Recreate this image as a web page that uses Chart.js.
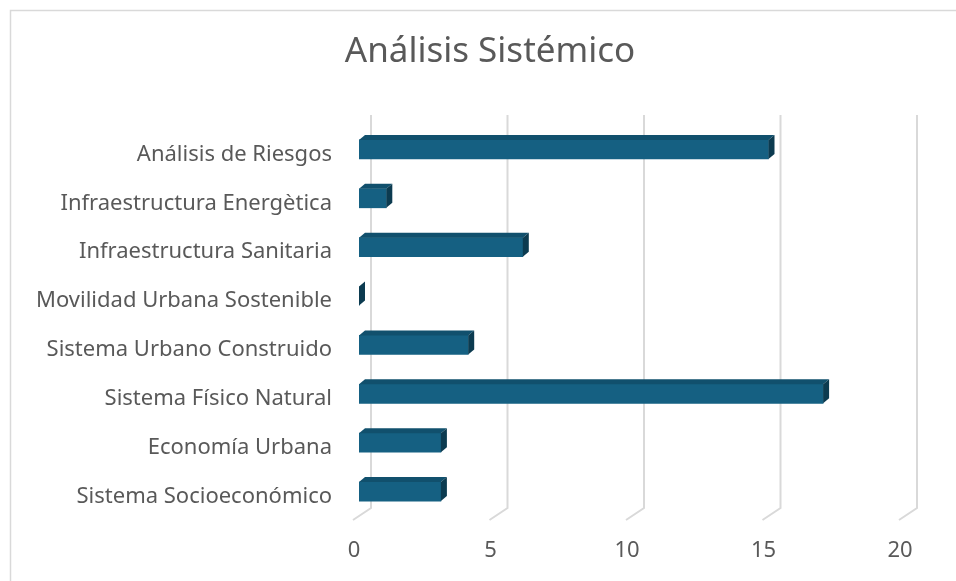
<!DOCTYPE html>
<html>
<head>
<meta charset="utf-8">
<script src="https://cdn.jsdelivr.net/npm/chart.js@4"></script>
<style>
  html, body { margin: 0; padding: 0; background: #ffffff; }
  #wrap { width: 956px; height: 581px; position: relative; }
</style>
</head>
<body>
<div id="wrap"><canvas id="sistemico-bar"></canvas></div>
<script>
Chart.defaults.font.family = "'Noto Sans', sans-serif"
Chart.defaults.color = '#595959'

const categories = ['Análisis de Riesgos', 'Infraestructura Energètica', 'Infraestructura Sanitaria',
    'Movilidad Urbana Sostenible', 'Sistema Urbano Construido', 'Sistema Físico Natural',
    'Economía Urbana', 'Sistema Socioeconómico'];
const values = [15, 1, 6, 0, 4, 17, 3, 3];
const xMin = 0;
const xMax = 20;
const xStep = 5;

const frontColor = '#156082';
const topColor = '#11506d';
const sideColor = '#0c3b50';
const gridColor = '#d9d9d9';

// fake 3d: top and side faces of the bars, back wall grid, outer frame
const bars3d = {
    id: 'bars3d',
    beforeDraw(chart) {
        const ctx = chart.ctx;
        ctx.save();
        ctx.strokeStyle = '#d9d9d9';
        ctx.lineWidth = 1.5;
        ctx.strokeRect(10.5, 10.5, chart.width + 20, chart.height + 20);
        ctx.restore();
    },
    beforeDatasetsDraw(chart) {
        const ctx = chart.ctx;
        const xs = chart.scales.x;
        const area = chart.chartArea;
        ctx.save();
        ctx.strokeStyle = gridColor;
        ctx.lineWidth = 2;
        xs.ticks.forEach(t => {
            const x = xs.getPixelForValue(t.value);
            ctx.beginPath();
            ctx.moveTo(x - 6, area.bottom + 4);
            ctx.lineTo(x + 12, area.bottom - 8);
            ctx.lineTo(x + 12, 115);
            ctx.stroke();
        });
        ctx.restore();
    },
    afterDatasetsDraw(chart) {
        const ctx = chart.ctx;
        const dx = 6, dy = -5;
        ctx.save();
        chart.getDatasetMeta(0).data.forEach(bar => {
            const p = bar.getProps(['x', 'y', 'base', 'height'], true);
            const top = p.y - p.height / 2;
            const bot = p.y + p.height / 2;
            ctx.fillStyle = topColor;
            ctx.beginPath();
            ctx.moveTo(p.base, top);
            ctx.lineTo(p.base + dx, top + dy);
            ctx.lineTo(p.x + dx, top + dy);
            ctx.lineTo(p.x, top);
            ctx.closePath();
            ctx.fill();
            ctx.fillStyle = sideColor;
            ctx.beginPath();
            ctx.moveTo(p.x, top);
            ctx.lineTo(p.x + dx, top + dy);
            ctx.lineTo(p.x + dx, bot + dy);
            ctx.lineTo(p.x, bot);
            ctx.closePath();
            ctx.fill();
        });
        ctx.restore();
    }
};

const data = {
    labels: categories,
    datasets: [{
        label: 'Análisis Sistémico',
        data: values,
        backgroundColor: frontColor,
        borderWidth: 0,
        barThickness: 19
    }]
};

const options = {
    indexAxis: 'y',
    responsive: true,
    maintainAspectRatio: false,
    animation: false,
    layout: {
        padding: { left: 24, right: 0, top: 0, bottom: 0 }
    },
    scales: {
        x: {
            min: xMin,
            max: xMax,
            ticks: {
                stepSize: xStep,
                padding: 22,
                labelOffset: -5,
                font: { size: 22 },
                color: '#595959'
            },
            grid: { display: false, drawTicks: false },
            border: { display: false },
            afterFit(scale) { scale.height = 65; }
        },
        y: {
            ticks: {
                padding: 27,
                labelOffset: 5,
                font: { size: 22 },
                color: '#595959'
            },
            grid: { display: false, drawTicks: false },
            border: { display: false },
            afterFit(scale) { scale.width = 335; }
        },
        yR: {
            type: 'linear',
            position: 'right',
            ticks: { display: false },
            grid: { display: false, drawTicks: false },
            border: { display: false },
            afterFit(scale) { scale.width = 51; }
        }
    },
    plugins: {
        legend: { display: false },
        tooltip: { enabled: false },
        title: {
            display: true,
            text: 'Análisis Sistémico',
            color: '#595959',
            font: { size: 35, weight: 'normal' },
            padding: { top: 31, bottom: 52 }
        }
    }
};

const ctxSistemico = document.getElementById('sistemico-bar');
const sistemicoBar = new Chart(ctxSistemico, {
    type: 'bar',
    data: data,
    options: options,
    plugins: [bars3d]
});
</script>
</body>
</html>
